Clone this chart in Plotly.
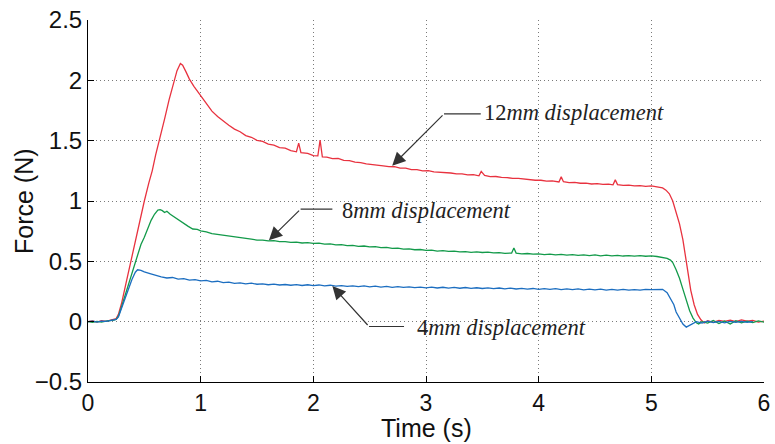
import plotly.graph_objects as go

# Force response of the probe for three step displacements
red_t = [0.00, 0.04, 0.08, 0.12, 0.16, 0.20, 0.23, 0.25, 0.27, 0.30, 0.34, 0.38, 0.42, 0.46,
         0.50, 0.54, 0.57, 0.60, 0.64, 0.68, 0.72, 0.76, 0.79, 0.82, 0.84, 0.87, 0.90, 0.94,
         0.98, 1.02, 1.06, 1.10, 1.15, 1.20, 1.25, 1.30, 1.35, 1.40, 1.45, 1.50, 1.55, 1.60,
         1.65, 1.70, 1.75, 1.80, 1.85, 1.87, 1.89, 1.95, 2.00, 2.04, 2.06, 2.08, 2.12, 2.17,
         2.22, 2.27, 2.32, 2.37, 2.42, 2.47, 2.52, 2.57, 2.62, 2.67, 2.72, 2.77, 2.82, 2.87,
         2.92, 2.97, 3.02, 3.07, 3.12, 3.17, 3.22, 3.27, 3.32, 3.37, 3.42, 3.47, 3.49, 3.52,
         3.57, 3.62, 3.67, 3.72, 3.77, 3.82, 3.87, 3.92, 3.97, 4.02, 4.07, 4.12, 4.18, 4.20,
         4.22, 4.27, 4.32, 4.37, 4.42, 4.47, 4.52, 4.57, 4.62, 4.66, 4.68, 4.70, 4.75, 4.80,
         4.85, 4.90, 4.95, 5.00, 5.05, 5.10, 5.13, 5.16, 5.19, 5.22, 5.25, 5.28, 5.31, 5.33,
         5.35, 5.38, 5.41, 5.44, 5.47, 5.50, 5.55, 5.60, 5.65, 5.70, 5.75, 5.80, 5.85, 5.90,
         5.95, 6.00]
red_f = [0.000, 0.006, -0.004, 0.008, 0.002, 0.012, 0.015, 0.025, 0.060, 0.160, 0.330, 0.500,
         0.680, 0.850, 1.000, 1.150, 1.250, 1.380, 1.520, 1.680, 1.840, 1.980, 2.080, 2.140,
         2.125, 2.070, 2.010, 1.950, 1.900, 1.840, 1.790, 1.745, 1.700, 1.660, 1.628, 1.596,
         1.574, 1.542, 1.528, 1.503, 1.494, 1.472, 1.463, 1.443, 1.438, 1.418, 1.408, 1.480,
         1.400, 1.394, 1.376, 1.374, 1.505, 1.366, 1.364, 1.352, 1.353, 1.336, 1.334, 1.322,
         1.318, 1.307, 1.304, 1.295, 1.292, 1.285, 1.284, 1.272, 1.273, 1.260, 1.260, 1.250,
         1.252, 1.242, 1.240, 1.233, 1.232, 1.225, 1.224, 1.216, 1.218, 1.209, 1.245, 1.212,
         1.202, 1.203, 1.195, 1.194, 1.187, 1.187, 1.180, 1.178, 1.172, 1.172, 1.164, 1.166,
         1.158, 1.200, 1.160, 1.152, 1.154, 1.147, 1.148, 1.141, 1.144, 1.138, 1.140, 1.134,
         1.175, 1.136, 1.129, 1.132, 1.125, 1.128, 1.122, 1.126, 1.118, 1.108, 1.090, 1.060,
         1.000, 0.910, 0.810, 0.680, 0.500, 0.380, 0.260, 0.140, 0.060, 0.015, -0.010, 0.008,
         -0.005, 0.010, 0.002, 0.012, 0.000, 0.015, 0.004, 0.010, -0.004, 0.005]

green_t = [0.00, 0.04, 0.08, 0.12, 0.16, 0.20, 0.23, 0.25, 0.27, 0.30, 0.34, 0.38, 0.41, 0.44,
           0.47, 0.50, 0.53, 0.56, 0.59, 0.62, 0.64, 0.66, 0.68, 0.70, 0.73, 0.77, 0.81, 0.85,
           0.89, 0.93, 0.97, 1.00, 1.05, 1.10, 1.15, 1.20, 1.25, 1.30, 1.35, 1.40, 1.45, 1.50,
           1.55, 1.60, 1.65, 1.70, 1.75, 1.80, 1.85, 1.90, 1.95, 2.00, 2.05, 2.10, 2.15, 2.20,
           2.25, 2.30, 2.35, 2.40, 2.45, 2.50, 2.55, 2.60, 2.65, 2.70, 2.75, 2.80, 2.85, 2.90,
           2.95, 3.00, 3.05, 3.10, 3.15, 3.20, 3.25, 3.30, 3.35, 3.40, 3.45, 3.50, 3.55, 3.60,
           3.65, 3.70, 3.76, 3.78, 3.80, 3.85, 3.90, 3.95, 4.00, 4.05, 4.10, 4.15, 4.20, 4.25,
           4.30, 4.35, 4.40, 4.45, 4.50, 4.55, 4.60, 4.65, 4.70, 4.75, 4.80, 4.85, 4.90, 4.95,
           5.00, 5.05, 5.10, 5.14, 5.17, 5.19, 5.22, 5.25, 5.28, 5.31, 5.34, 5.37, 5.40, 5.42,
           5.45, 5.50, 5.55, 5.60, 5.65, 5.70, 5.75, 5.80, 5.85, 5.90, 5.95, 6.00]
green_f = [0.000, -0.006, 0.002, -0.004, 0.004, 0.006, 0.012, 0.020, 0.045, 0.130, 0.250, 0.370,
           0.470, 0.560, 0.640, 0.700, 0.770, 0.840, 0.890, 0.925, 0.928, 0.920, 0.905, 0.915,
           0.890, 0.865, 0.835, 0.810, 0.790, 0.768, 0.765, 0.752, 0.745, 0.730, 0.724, 0.713,
           0.712, 0.700, 0.697, 0.688, 0.684, 0.676, 0.676, 0.669, 0.672, 0.663, 0.664, 0.657,
           0.660, 0.652, 0.655, 0.648, 0.650, 0.642, 0.644, 0.636, 0.638, 0.631, 0.632, 0.624,
           0.627, 0.619, 0.622, 0.613, 0.615, 0.607, 0.610, 0.601, 0.604, 0.596, 0.598, 0.590,
           0.592, 0.585, 0.588, 0.582, 0.584, 0.578, 0.581, 0.575, 0.578, 0.573, 0.576, 0.570,
           0.572, 0.566, 0.569, 0.610, 0.568, 0.562, 0.565, 0.559, 0.562, 0.556, 0.560, 0.553,
           0.558, 0.552, 0.556, 0.549, 0.554, 0.548, 0.553, 0.546, 0.551, 0.545, 0.550, 0.544,
           0.548, 0.543, 0.547, 0.542, 0.545, 0.540, 0.535, 0.525, 0.510, 0.490, 0.430, 0.360,
           0.270, 0.170, 0.090, 0.030, -0.010, -0.020, 0.000, -0.012, 0.010, -0.015, 0.006,
           -0.020, 0.008, -0.010, 0.004, -0.008, 0.006, -0.004]

blue_t = [0.00, 0.04, 0.08, 0.12, 0.16, 0.20, 0.23, 0.25, 0.27, 0.30, 0.33, 0.36, 0.39, 0.42,
          0.44, 0.47, 0.50, 0.55, 0.60, 0.65, 0.70, 0.75, 0.80, 0.85, 0.90, 0.95, 1.00, 1.05,
          1.10, 1.15, 1.20, 1.25, 1.30, 1.35, 1.40, 1.45, 1.50, 1.55, 1.60, 1.65, 1.70, 1.75,
          1.80, 1.85, 1.90, 1.95, 2.00, 2.05, 2.10, 2.15, 2.20, 2.25, 2.30, 2.35, 2.40, 2.45,
          2.50, 2.55, 2.60, 2.65, 2.70, 2.75, 2.80, 2.85, 2.90, 2.95, 3.00, 3.05, 3.10, 3.15,
          3.20, 3.25, 3.30, 3.35, 3.40, 3.45, 3.50, 3.55, 3.60, 3.65, 3.70, 3.75, 3.80, 3.85,
          3.90, 3.95, 4.00, 4.05, 4.10, 4.15, 4.20, 4.25, 4.30, 4.35, 4.40, 4.45, 4.50, 4.55,
          4.60, 4.65, 4.70, 4.75, 4.80, 4.85, 4.90, 4.95, 5.00, 5.05, 5.10, 5.14, 5.17, 5.20,
          5.22, 5.25, 5.28, 5.31, 5.33, 5.35, 5.37, 5.40, 5.45, 5.50, 5.55, 5.60, 5.65, 5.70,
          5.75, 5.80, 5.85, 5.90, 5.95, 6.00]
blue_f = [0.000, 0.004, -0.003, 0.005, 0.002, 0.008, 0.010, 0.018, 0.040, 0.120, 0.200, 0.280,
          0.350, 0.410, 0.430, 0.425, 0.412, 0.398, 0.382, 0.372, 0.362, 0.366, 0.352, 0.356,
          0.344, 0.348, 0.338, 0.342, 0.330, 0.335, 0.324, 0.328, 0.318, 0.322, 0.314, 0.320,
          0.310, 0.314, 0.306, 0.311, 0.304, 0.308, 0.302, 0.307, 0.300, 0.306, 0.299, 0.304,
          0.297, 0.302, 0.294, 0.299, 0.292, 0.297, 0.290, 0.296, 0.289, 0.294, 0.287, 0.292,
          0.285, 0.291, 0.284, 0.289, 0.282, 0.287, 0.280, 0.286, 0.279, 0.285, 0.278, 0.284,
          0.277, 0.283, 0.276, 0.281, 0.275, 0.280, 0.274, 0.279, 0.272, 0.278, 0.271, 0.276,
          0.270, 0.275, 0.268, 0.274, 0.267, 0.273, 0.266, 0.272, 0.265, 0.271, 0.264, 0.270,
          0.263, 0.269, 0.262, 0.268, 0.262, 0.267, 0.261, 0.266, 0.262, 0.268, 0.265, 0.268,
          0.268, 0.240, 0.190, 0.140, 0.080, 0.030, -0.020, -0.045, -0.035, -0.020, -0.015,
          0.000, -0.012, 0.004, -0.008, 0.002, -0.010, 0.003, -0.006, 0.002, -0.005, 0.000]

series_names = ["12mm displacement", "8mm displacement", "4mm displacement"]
series_t = [red_t, green_t, blue_t]
series_f = [red_f, green_f, blue_f]
series_colors = ["#e8323f", "#139a4a", "#1c6ec0"]

# Callouts: arrow tip on the curve, elbow of the leader, end of its horizontal run
label_tip = [(2.70, 1.293), (1.606, 0.675), (2.169, 0.295)]
label_elbow = [(3.16, 1.722), (1.887, 0.933), (2.494, -0.040)]
label_run_end = [3.486, 2.169, 2.805]
label_text_pos = [(3.50, 1.736), (2.234, 0.924), (2.90, -0.052)]
label_number = ["12", "8", "4"]

x_ticks = [0, 1, 2, 3, 4, 5, 6]
y_ticks = [-0.5, 0, 0.5, 1, 1.5, 2, 2.5]

fig = go.Figure()
for name, t, f, c in zip(series_names, series_t, series_f, series_colors):
    fig.add_trace(go.Scatter(x=t, y=f, mode="lines", name=name,
                             line=dict(color=c, width=1.3), showlegend=False))

leader_col = "#333333"
for tip, elbow, run_end, tpos, num in zip(label_tip, label_elbow, label_run_end,
                                          label_text_pos, label_number):
    fig.add_shape(type="line", xref="x", yref="y", x0=elbow[0], y0=elbow[1],
                  x1=run_end, y1=elbow[1], line=dict(color=leader_col, width=1.2))
    fig.add_annotation(x=tip[0], y=tip[1], ax=elbow[0], ay=elbow[1], axref="x", ayref="y",
                       xref="x", yref="y", text="", showarrow=True, arrowhead=2,
                       arrowsize=2.2, arrowwidth=1.2, arrowcolor=leader_col)
    fig.add_annotation(x=tpos[0], y=tpos[1], xref="x", yref="y", showarrow=False,
                       xanchor="left", yanchor="middle",
                       text=num + "<i>mm displacement</i>",
                       font=dict(family="Liberation Serif", size=22.5, color="#222222"))

title_font = dict(family="Liberation Sans", size=25, color="#111111")
fig.add_annotation(x=0.5, y=0, xref="paper", yref="paper", yshift=-46, showarrow=False,
                   xanchor="center", yanchor="middle", text="Time (s)", font=title_font)
fig.add_annotation(x=0, y=0.5, xref="paper", yref="paper", xshift=-64, showarrow=False,
                   xanchor="center", yanchor="middle", text="Force (N)", textangle=-90,
                   font=title_font)

axis_common = dict(showline=True, linecolor="black", linewidth=1, mirror=False,
                   ticks="inside", ticklen=6, tickcolor="black", tickwidth=1,
                   showgrid=True, gridcolor="#7a7a7a", griddash="1px,3px", gridwidth=1,
                   zeroline=False, automargin=False)

fig.update_xaxes(range=[0, 6], tickvals=x_ticks, **axis_common,
                 tickfont=dict(family="Liberation Sans", size=23, color="#111111"))
fig.update_yaxes(range=[-0.5, 2.5], tickvals=y_ticks, **axis_common,
                 tickfont=dict(family="Liberation Sans", size=24, color="#111111"))

fig.update_layout(width=775, height=444, margin=dict(l=88, r=11, t=20, b=62),
                  plot_bgcolor="white", paper_bgcolor="white")

fig.write_html("out.html")
